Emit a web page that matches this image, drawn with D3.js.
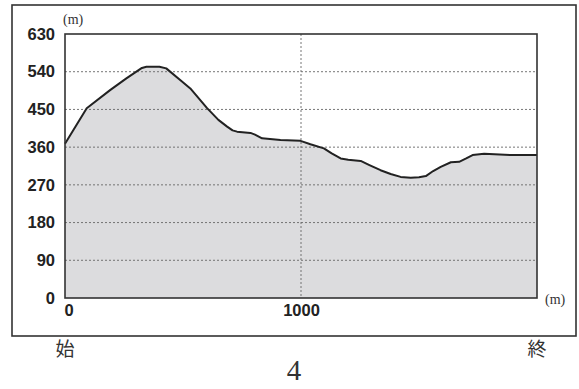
<!DOCTYPE html>
<html><head><meta charset="utf-8">
<script src="https://cdn.jsdelivr.net/npm/d3@7"></script>
<style>body{margin:0;background:#fff}svg{display:block}</style>
</head><body>
<script>
const distances = [0, 92, 191, 260, 326, 345, 400, 429, 488, 531, 602, 650, 687, 710, 729, 786, 805, 835, 913, 998, 1040, 1097, 1130, 1168, 1200, 1253, 1290, 1337, 1380, 1422, 1465, 1500, 1529, 1560, 1592, 1635, 1670, 1700, 1727, 1776, 1890, 2000];
const elevations = [368, 453, 496, 524, 549, 552, 552, 548, 520, 500, 453, 425, 409, 400, 397, 394, 390, 381, 377, 375, 367, 357, 345, 333, 330, 327, 317, 305, 296, 289, 287, 288, 291, 303, 313, 324, 325, 333, 341, 344, 341, 341];
const yTicks = [0, 90, 180, 270, 360, 450, 540, 630];
const xTicks = [0, 1000];
const unitLabel = "(m)";
const startLabel = "始", endLabel = "終", pageLabel = "4";

const W = 579, H = 389;
const svg = d3.select("body").append("svg").attr("width", W).attr("height", H);
const L = 65, R = 537, T = 34, B = 298;
const x = d3.scaleLinear().domain([0, 2000]).range([L, R]);
const y = d3.scaleLinear().domain([0, 630]).range([B, T]);

svg.append("rect").attr("x", 12).attr("y", 5).attr("width", 564).attr("height", 331)
  .attr("fill", "none").attr("stroke", "#333").attr("stroke-width", 1.6);

const data = distances.map((d, i) => ({d, e: elevations[i]}));
const curve = d3.curveLinear;
svg.append("path").datum(data)
  .attr("d", d3.area().x(p => x(p.d)).y0(y(0)).y1(p => y(p.e)).curve(curve))
  .attr("fill", "#dcdcde");

svg.append("g").selectAll("line").data(yTicks.filter(t => t > 0 && t < 630)).join("line")
  .attr("x1", L).attr("x2", R).attr("y1", d => y(d)).attr("y2", d => y(d))
  .attr("stroke", "#666").attr("stroke-width", 0.9).attr("stroke-dasharray", "2,2");
svg.append("line").attr("x1", x(1000)).attr("x2", x(1000)).attr("y1", T).attr("y2", B)
  .attr("stroke", "#666").attr("stroke-width", 0.9).attr("stroke-dasharray", "2,2");

svg.append("path").datum(data)
  .attr("d", d3.line().x(p => x(p.d)).y(p => y(p.e)).curve(curve))
  .attr("fill", "none").attr("stroke", "#222").attr("stroke-width", 2).attr("stroke-linejoin", "round");

svg.append("rect").attr("x", L).attr("y", T).attr("width", R - L).attr("height", B - T)
  .attr("fill", "none").attr("stroke", "#333").attr("stroke-width", 1.6);

const yAxis = svg.append("g").attr("transform", `translate(${L},0)`)
  .call(d3.axisLeft(y).tickValues(yTicks).tickSize(0).tickPadding(10));
yAxis.select(".domain").remove();
yAxis.selectAll("text").attr("font-family", "'Liberation Sans Narrow', 'Arial Narrow', sans-serif")
  .attr("font-weight", "bold").attr("font-size", 16.5).attr("fill", "#222");

const xAxis = svg.append("g").attr("transform", `translate(0,${B})`)
  .call(d3.axisBottom(x).tickValues(xTicks).tickSize(0).tickPadding(6).tickFormat(d3.format("d")));
xAxis.select(".domain").remove();
xAxis.selectAll("text").attr("font-family", "'Liberation Sans Narrow', 'Arial Narrow', sans-serif")
  .attr("font-weight", "bold").attr("font-size", 16.5).attr("fill", "#222")
  .attr("text-anchor", d => d === 0 ? "start" : "middle")
  .attr("dx", d => d === 0 ? -1 : 0);

svg.append("text").attr("x", 63).attr("y", 24).text(unitLabel)
  .attr("font-family", "'Liberation Serif', serif").attr("font-size", 14).attr("fill", "#333");
svg.append("text").attr("x", 545).attr("y", 304).text(unitLabel)
  .attr("font-family", "'Liberation Serif', serif").attr("font-size", 14).attr("fill", "#333");

svg.append("text").attr("x", 65).attr("y", 356).attr("text-anchor", "middle").text(startLabel)
  .attr("font-family", "'Noto Sans CJK JP', sans-serif").attr("font-size", 19).attr("fill", "#333");
svg.append("text").attr("x", 537).attr("y", 356).attr("text-anchor", "middle").text(endLabel)
  .attr("font-family", "'Noto Sans CJK JP', sans-serif").attr("font-size", 19).attr("fill", "#333");
svg.append("text").attr("x", 294).attr("y", 380).attr("text-anchor", "middle").text(pageLabel)
  .attr("font-family", "'Liberation Serif', serif").attr("font-size", 29).attr("fill", "#333");
</script>
</body></html>
